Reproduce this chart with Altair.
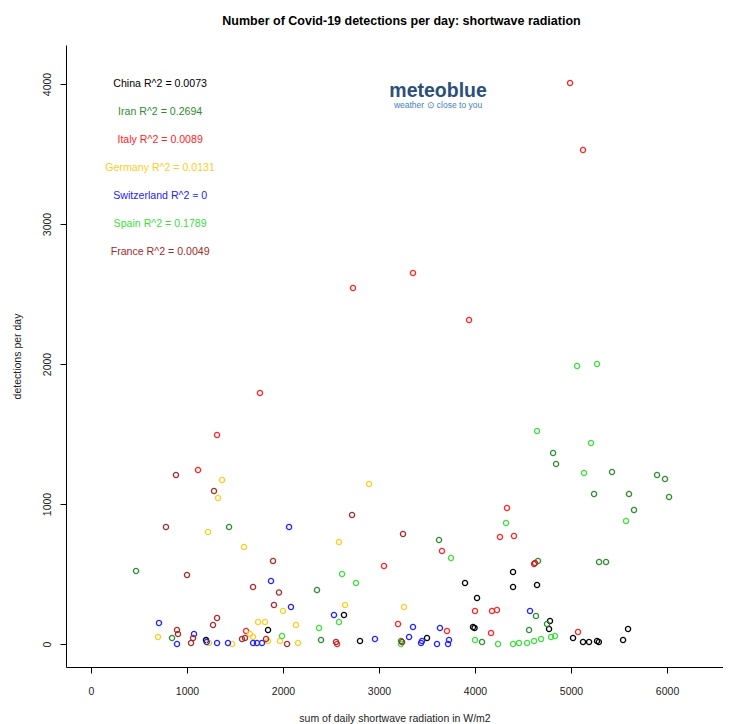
import altair as alt
import pandas as pd

# ---------------- data ----------------
countries = ["China", "Iran", "Italy", "Germany", "Switzerland", "Spain", "France"]
colors = ["#000000", "#2E8B2E", "#FF2222", "#FFCC22", "#2222FF", "#3ADF3A", "#A52A2A"]
r2_labels = ["China R^2 = 0.0073", "Iran R^2 = 0.2694", "Italy R^2 = 0.0089",
             "Germany R^2 = 0.0131", "Switzerland R^2 ≈ 0", "Spain R^2 = 0.1789",
             "France R^2 = 0.0049"]

china_x = [1844, 2635, 2802, 3500, 3896, 3979, 3995, 4021, 4396, 4396, 4646, 4781,
           4771, 5021, 5125, 5188, 5271, 5290, 5542, 5594, 1198]
china_y = [100, 207, 21, 43, 436, 121, 115, 329, 514, 407, 421, 164,
           107, 43, 14, 14, 21, 14, 29, 107, 28]

iran_x = [469, 844, 1438, 2354, 2396, 3229, 3625, 4073, 4563, 4635, 4656, 4750,
          4813, 4844, 5240, 5427, 5292, 5365, 5604, 5656, 5896, 5979, 6021]
iran_y = [521, 43, 836, 386, 29, 21, 743, 14, 100, 200, 593, 143,
          1364, 1286, 1071, 1229, 586, 586, 1071, 957, 1207, 1179, 1050]

italy_x = [4990, 5125, 3354, 2729, 3938, 1760, 1313, 1115, 4333, 4260, 4406, 3656,
           3052, 4000, 4177, 4229, 3198, 3708, 4167, 5073, 1615, 2563, 4615]
italy_y = [4007, 3529, 2650, 2543, 2314, 1793, 1493, 1243, 971, 764, 771, 664,
           557, 236, 236, 243, 143, 93, 79, 86, 93, 0, 572]

germany_x = [698, 1219, 1229, 1323, 1365, 1469, 1594, 1656, 1688, 1740, 1813, 1844,
             1969, 2000, 2135, 2156, 2583, 2646, 2896, 3260]
germany_y = [50, 800, 7, 1043, 1171, 0, 693, 71, 50, 157, 157, 20,
             21, 236, 136, 7, 729, 279, 1143, 264]

swiss_x = [708, 896, 1073, 1205, 1313, 1427, 1688, 1729, 1781, 1875, 2063, 2083,
           2531, 2958, 3313, 3354, 3438, 3448, 3604, 3635, 3719, 3729, 4573]
swiss_y = [150, 0, 71, 14, 7, 7, 7, 7, 7, 450, 836, 264,
           207, 36, 50, 121, 7, 21, 0, 114, 0, 29, 236]

spain_x = [1990, 2375, 2583, 2615, 2760, 3229, 3750, 4000, 4240, 4323, 4396, 4458,
           4542, 4615, 4646, 4688, 4792, 4833, 5063, 5135, 5208, 5271, 5573]
spain_y = [57, 114, 157, 500, 436, 0, 614, 29, 0, 864, 0, 7,
           7, 21, 1521, 36, 50, 57, 1986, 1221, 1436, 2000, 879]

france_x = [781, 885, 896, 906, 1000, 1042, 1063, 1271, 1281, 1313, 1573, 1604,
            1688, 1823, 1896, 1906, 1958, 2042, 2552, 2719, 3240, 3250, 4625]
france_y = [836, 1207, 100, 71, 493, 7, 43, 136, 1093, 186, 36, 43,
            407, 36, 593, 279, 368, 0, 14, 921, 14, 786, 579]

x_ticks = [0, 1000, 2000, 3000, 4000, 5000, 6000]
y_ticks = [0, 1000, 2000, 3000, 4000]

# ---------------- tables ----------------
series = [(china_x, china_y), (iran_x, iran_y), (italy_x, italy_y),
          (germany_x, germany_y), (swiss_x, swiss_y), (spain_x, spain_y),
          (france_x, france_y)]
rows = []
for name, (xs, ys) in zip(countries, series):
    for xv, yv in zip(xs, ys):
        rows.append({"country": name, "radiation": xv, "detections": yv})
df = pd.DataFrame(rows)

label_x = 720
label_y = [4000, 3800, 3600, 3400, 3200, 3000, 2800]
labels_df = pd.DataFrame({"country": countries, "label": r2_labels,
                          "x": [label_x] * 7, "y": label_y})

X_DOM = [-260.4, 6583]
Y_DOM = [-164.3, 4278.6]
FONT = "Liberation Sans"

xscale = alt.Scale(domain=X_DOM, nice=False, zero=False)
yscale = alt.Scale(domain=Y_DOM, nice=False, zero=False)
cscale = alt.Scale(domain=countries, range=colors)

points = alt.Chart(df).mark_point(
    shape="circle", filled=False, size=27, strokeWidth=1.3, opacity=1
).encode(
    x=alt.X("radiation:Q", scale=xscale,
            title="sum of daily shortwave radiation in W/m2",
            axis=alt.Axis(values=x_ticks, format="d", grid=False, tickSize=6,
                          labelPadding=13, titleY=46, titleBaseline="top")),
    y=alt.Y("detections:Q", scale=yscale, title="detections per day",
            axis=alt.Axis(values=y_ticks, format="d", grid=False, tickSize=6,
                          labelAngle=270, labelAlign="center",
                          labelBaseline="alphabetic", labelPadding=10,
                          titleX=-44, titleBaseline="bottom")),
    color=alt.Color("country:N", scale=cscale, legend=None),
)

texts = alt.Chart(labels_df).mark_text(font=FONT, fontSize=10.6).encode(
    x=alt.X("x:Q", scale=xscale),
    y=alt.Y("y:Q", scale=yscale),
    text="label:N",
    color=alt.Color("country:N", scale=cscale, legend=None),
)

logo_df = pd.DataFrame({"x": [3615], "y": [3950], "t": ["meteoblue"]})
logo = alt.Chart(logo_df).mark_text(
    font=FONT, fontSize=19.5, fontWeight="bold", color="#2B4F7D", baseline="middle"
).encode(x=alt.X("x:Q", scale=xscale), y=alt.Y("y:Q", scale=yscale), text="t:N")

sub_df = pd.DataFrame({"x": [3615], "y": [3850], "t": ["weather ⊙ close to you"]})
sub = alt.Chart(sub_df).mark_text(
    font=FONT, fontSize=8.5, color="#3F7EC0", baseline="middle"
).encode(x=alt.X("x:Q", scale=xscale), y=alt.Y("y:Q", scale=yscale), text="t:N")

chart = alt.layer(points, texts, logo, sub).properties(
    width=657, height=622,
    background="white",
    autosize=alt.AutoSizeParams(type="none"),
    padding={"left": 58, "top": 37, "right": 0, "bottom": 57},
    title=alt.TitleParams(
        "Number of Covid-19 detections per day: shortwave radiation",
        font=FONT, fontSize=12.5, fontWeight="bold", color="#000000",
        anchor="middle", baseline="bottom", offset=5, dx=7),
).configure_view(stroke=None).configure_axis(
    grid=False, domainColor="#000000", tickColor="#000000",
    labelColor="#222222", labelFont=FONT, labelFontSize=10.5,
    titleFont=FONT, titleFontSize=10.5, titleFontWeight="normal",
    titleColor="#222222", domainWidth=1, tickWidth=1,
)

chart.save("out.html", embed_options={"renderer": "svg", "actions": False})
